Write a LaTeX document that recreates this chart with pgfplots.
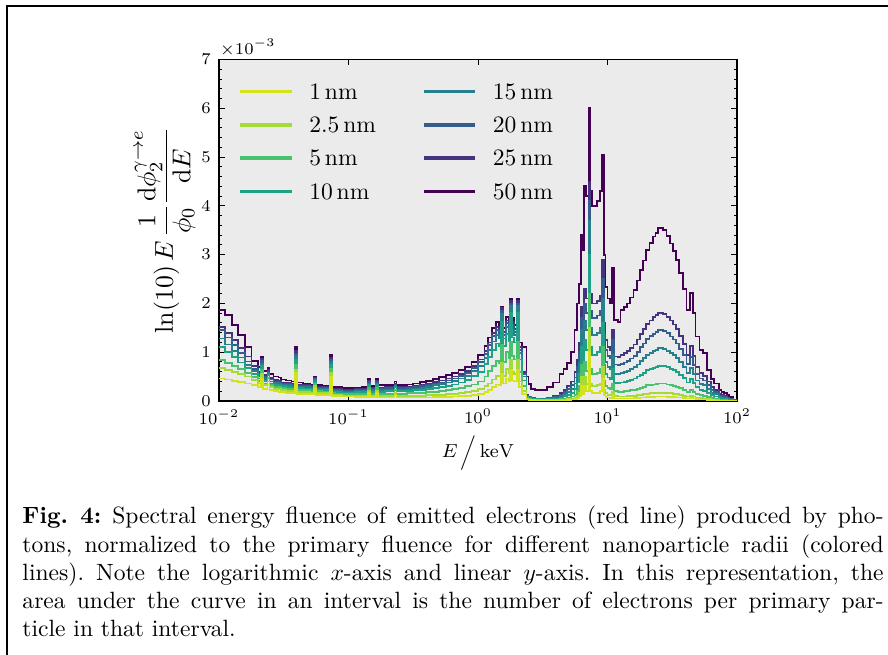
\documentclass[border=0pt]{standalone}
\usepackage{graphicx}
\usepackage{pgfplots}
\usepackage{pgfplotstable}
\pgfplotsset{compat=1.18}

\definecolor{axisbg}{RGB}{235,235,235}
\definecolor{cA}{HTML}{D2E21B}% 1 nm
\definecolor{cB}{HTML}{A5DB36}% 2.5 nm
\definecolor{cC}{HTML}{4AC16D}% 5 nm
\definecolor{cD}{HTML}{1FA187}% 10 nm
\definecolor{cE}{HTML}{277F8E}% 15 nm
\definecolor{cF}{HTML}{365C8D}% 20 nm
\definecolor{cG}{HTML}{46337E}% 25 nm
\definecolor{cH}{HTML}{440154}% 50 nm

% spectral energy fluence (units of 1e-3) per radius: 1, 2.5, 5, 10, 15, 20, 25, 50 nm
\pgfplotstableread{
E      y1   y2   y5   y10  y15  y20  y25  y50
0.0100 0.46 0.67 0.84 1.11 1.28 1.45 1.52 1.86
0.0112 0.44 0.63 0.78 1.00 1.16 1.30 1.40 1.76
0.0126 0.41 0.59 0.72 0.90 1.03 1.15 1.25 1.55
0.0141 0.39 0.55 0.65 0.79 0.89 0.98 1.08 1.35
0.0158 0.36 0.50 0.57 0.67 0.74 0.81 0.91 1.10
0.0178 0.32 0.43 0.49 0.56 0.61 0.66 0.72 0.82
0.0200 0.28 0.36 0.41 0.46 0.51 0.55 0.60 0.70
0.0211 0.46 0.55 0.64 0.72 0.77 0.82 0.86 0.91
0.0219 0.25 0.32 0.36 0.41 0.45 0.49 0.53 0.62
0.0237 0.34 0.40 0.47 0.54 0.57 0.60 0.64 0.67
0.0245 0.22 0.28 0.32 0.36 0.40 0.44 0.47 0.55
0.0263 0.20 0.25 0.29 0.33 0.37 0.40 0.43 0.50
0.0288 0.19 0.24 0.28 0.32 0.35 0.39 0.42 0.48
0.0302 0.18 0.22 0.26 0.30 0.33 0.36 0.38 0.44
0.0331 0.17 0.21 0.25 0.29 0.32 0.35 0.37 0.42
0.0363 0.16 0.20 0.24 0.27 0.30 0.33 0.35 0.40
0.0385 0.57 0.64 0.74 0.85 0.92 0.97 1.02 1.10
0.0398 0.15 0.19 0.23 0.26 0.29 0.31 0.33 0.38
0.0447 0.15 0.18 0.22 0.25 0.28 0.30 0.32 0.36
0.0501 0.14 0.17 0.21 0.24 0.27 0.29 0.31 0.34
0.0543 0.25 0.30 0.35 0.40 0.43 0.45 0.47 0.50
0.0562 0.13 0.16 0.20 0.23 0.25 0.27 0.29 0.33
0.0631 0.13 0.16 0.19 0.22 0.24 0.26 0.28 0.31
0.0708 0.12 0.15 0.18 0.21 0.23 0.25 0.27 0.30
0.0724 0.50 0.58 0.66 0.74 0.80 0.84 0.88 0.94
0.0750 0.11 0.13 0.16 0.19 0.21 0.23 0.25 0.28
0.0794 0.10 0.12 0.15 0.18 0.20 0.22 0.24 0.28
0.0891 0.09 0.11 0.14 0.17 0.19 0.21 0.23 0.26
0.1000 0.09 0.11 0.14 0.17 0.19 0.21 0.23 0.26
0.1122 0.08 0.11 0.14 0.18 0.20 0.22 0.24 0.27
0.1259 0.08 0.11 0.14 0.18 0.21 0.23 0.25 0.29
0.1413 0.17 0.21 0.26 0.32 0.36 0.39 0.42 0.46
0.1462 0.08 0.11 0.15 0.19 0.22 0.24 0.26 0.31
0.1622 0.17 0.21 0.26 0.32 0.36 0.39 0.42 0.46
0.1679 0.07 0.11 0.15 0.19 0.22 0.25 0.27 0.32
0.1905 0.07 0.11 0.15 0.20 0.23 0.26 0.28 0.33
0.2265 0.13 0.17 0.22 0.28 0.31 0.34 0.36 0.40
0.2344 0.07 0.11 0.15 0.20 0.23 0.26 0.28 0.33
0.2818 0.07 0.11 0.16 0.21 0.24 0.27 0.29 0.34
0.3162 0.07 0.11 0.16 0.22 0.25 0.28 0.31 0.36
0.3548 0.07 0.11 0.17 0.23 0.27 0.30 0.33 0.39
0.3981 0.07 0.12 0.18 0.25 0.29 0.32 0.35 0.41
0.4467 0.08 0.12 0.19 0.27 0.32 0.35 0.39 0.45
0.5012 0.08 0.13 0.20 0.29 0.35 0.38 0.42 0.49
0.5623 0.08 0.14 0.22 0.31 0.38 0.42 0.46 0.53
0.6310 0.09 0.15 0.24 0.34 0.41 0.46 0.50 0.58
0.7079 0.10 0.16 0.26 0.38 0.46 0.52 0.56 0.64
0.7943 0.11 0.18 0.30 0.43 0.52 0.58 0.62 0.70
0.8913 0.12 0.21 0.34 0.51 0.61 0.68 0.72 0.80
1.0000 0.14 0.24 0.40 0.60 0.72 0.80 0.85 0.95
1.122  0.18 0.30 0.50 0.76 0.88 0.97 1.02 1.12
1.202  0.22 0.36 0.62 0.90 1.05 1.14 1.20 1.30
1.288  0.28 0.44 0.72 1.05 1.22 1.33 1.40 1.50
1.380  0.34 0.52 0.82 1.18 1.35 1.45 1.52 1.62
1.445  0.33 0.50 0.78 1.12 1.28 1.38 1.45 1.55
1.514  0.55 0.78 1.15 1.62 1.78 1.85 1.90 1.93
1.567  0.36 0.52 0.80 1.12 1.28 1.36 1.42 1.50
1.641  0.46 0.66 1.00 1.38 1.52 1.60 1.65 1.72
1.718  0.40 0.58 0.88 1.22 1.38 1.46 1.52 1.60
1.758  0.64 0.84 1.22 1.80 1.95 2.00 2.05 2.10
1.820  0.42 0.60 0.92 1.30 1.45 1.55 1.62 1.70
1.884  0.40 0.56 0.85 1.20 1.35 1.42 1.48 1.55
1.995  0.64 0.84 1.22 1.80 1.95 2.00 2.05 2.10
2.065  0.28 0.40 0.60 0.85 0.98 1.05 1.10 1.20
2.188  0.14 0.20 0.30 0.42 0.50 0.55 0.60 1.10
2.371  0.03 0.04 0.06 0.09 0.10 0.11 0.12 0.50
2.455  0.02 0.03 0.04 0.06 0.07 0.08 0.09 0.35
2.570  0.02 0.02 0.03 0.05 0.05 0.06 0.07 0.25
2.754  0.01 0.02 0.03 0.04 0.04 0.05 0.05 0.22
3.020  0.01 0.02 0.02 0.03 0.04 0.04 0.05 0.23
3.388  0.01 0.02 0.03 0.04 0.05 0.06 0.07 0.29
3.802  0.01 0.02 0.03 0.05 0.07 0.08 0.10 0.38
4.266  0.01 0.02 0.04 0.07 0.10 0.13 0.16 0.55
4.571  0.01 0.03 0.05 0.10 0.14 0.18 0.22 0.65
4.898  0.02 0.04 0.07 0.12 0.18 0.24 0.30 0.78
5.248  0.03 0.05 0.09 0.16 0.24 0.32 0.40 1.00
5.559  0.04 0.07 0.13 0.24 0.36 0.48 0.60 1.45
5.821  0.05 0.10 0.20 0.38 0.55 0.70 0.85 2.00
6.026  0.09 0.16 0.30 0.55 0.78 1.00 1.20 2.40
6.237  0.30 0.50 0.75 1.10 1.45 1.70 1.93 3.40
6.457  0.14 0.25 0.45 0.75 1.05 1.30 1.55 3.10
6.607  0.30 0.50 0.80 1.25 1.65 2.00 2.30 4.40
6.839  0.20 0.35 0.62 1.05 1.45 1.80 2.10 4.20
7.161  1.00 1.50 2.20 3.00 3.70 4.10 4.50 6.00
7.328  0.20 0.36 0.65 1.10 1.50 1.85 2.20 4.30
7.586  0.16 0.30 0.55 0.95 1.35 1.70 2.00 4.00
7.943  0.16 0.30 0.55 0.95 1.35 1.70 2.00 4.00
8.318  0.17 0.32 0.58 1.00 1.40 1.75 2.05 4.10
8.710  0.20 0.36 0.65 1.10 1.50 1.85 2.15 4.30
9.016  0.45 0.70 1.10 1.60 2.10 2.50 2.90 5.05
9.333  0.12 0.22 0.42 0.75 1.05 1.35 1.60 3.00
9.661  0.08 0.16 0.30 0.55 0.80 1.05 1.25 2.34
10.00  0.07 0.13 0.26 0.48 0.70 0.92 1.10 2.10
10.47  0.06 0.12 0.24 0.45 0.66 0.88 1.05 2.00
10.84  0.10 0.18 0.35 0.65 0.95 1.25 1.45 2.72
11.22  0.05 0.10 0.20 0.37 0.55 0.75 0.91 1.66
12.02  0.05 0.09 0.19 0.37 0.55 0.74 0.90 1.62
12.59  0.05 0.09 0.19 0.38 0.57 0.76 0.95 1.86
13.34  0.05 0.09 0.20 0.39 0.59 0.79 0.98 1.93
14.13  0.05 0.10 0.20 0.41 0.61 0.82 1.02 2.00
14.96  0.05 0.10 0.22 0.43 0.65 0.87 1.08 2.12
15.85  0.06 0.11 0.23 0.46 0.69 0.93 1.16 2.27
16.79  0.06 0.12 0.25 0.50 0.75 1.01 1.26 2.47
17.78  0.07 0.13 0.27 0.54 0.82 1.10 1.37 2.68
18.84  0.07 0.14 0.29 0.58 0.88 1.18 1.47 2.88
19.95  0.08 0.15 0.32 0.63 0.94 1.27 1.58 3.09
21.13  0.08 0.16 0.33 0.66 0.99 1.33 1.65 3.24
22.39  0.08 0.16 0.34 0.68 1.03 1.38 1.72 3.37
23.44  0.09 0.17 0.35 0.70 1.05 1.41 1.76 3.45
24.55  0.09 0.17 0.36 0.72 1.08 1.45 1.80 3.54
25.70  0.09 0.17 0.36 0.72 1.08 1.46 1.81 3.55
26.92  0.09 0.17 0.36 0.71 1.07 1.44 1.78 3.50
28.51  0.08 0.16 0.34 0.69 1.03 1.39 1.72 3.38
30.20  0.08 0.16 0.33 0.66 0.99 1.32 1.65 3.23
31.99  0.08 0.15 0.31 0.63 0.94 1.26 1.57 3.08
33.88  0.07 0.14 0.29 0.59 0.88 1.18 1.47 2.89
35.89  0.07 0.13 0.27 0.53 0.80 1.07 1.34 2.62
38.02  0.06 0.11 0.23 0.47 0.70 0.94 1.17 2.30
40.74  0.05 0.09 0.19 0.38 0.57 0.76 0.95 1.86
43.15  0.06 0.11 0.23 0.45 0.67 0.90 1.12 2.21
45.71  0.05 0.09 0.18 0.37 0.55 0.74 0.92 1.80
47.86  0.04 0.07 0.14 0.28 0.42 0.56 0.70 1.32
51.29  0.03 0.06 0.12 0.23 0.35 0.46 0.58 1.05
54.95  0.03 0.05 0.11 0.21 0.32 0.42 0.52 0.98
58.88  0.02 0.04 0.08 0.16 0.24 0.32 0.40 0.64
63.10  0.02 0.03 0.06 0.12 0.17 0.23 0.28 0.45
66.07  0.01 0.02 0.05 0.09 0.14 0.18 0.22 0.36
72.44  0.01 0.01 0.03 0.06 0.09 0.11 0.14 0.22
75.86  0.00 0.01 0.02 0.05 0.07 0.10 0.12 0.19
79.43  0.00 0.01 0.02 0.04 0.06 0.08 0.10 0.16
83.18  0.00 0.00 0.01 0.03 0.04 0.06 0.07 0.12
87.10  0.00 0.00 0.01 0.02 0.03 0.04 0.05 0.08
93.33  0.00 0.00 0.00 0.01 0.01 0.02 0.02 0.03
100.0  0.00 0.00 0.00 0.00 0.00 0.00 0.00 0.00
}\spectra

\begin{document}
\begin{tikzpicture}
\useasboundingbox (0,0) rectangle (377.22pt,278.24pt);
% frame
\draw[line width=0.85pt] (2.97pt,0pt) -- (2.97pt,275.7pt) -- (377.22pt,275.7pt);

\begin{axis}[
  name=main,
  at={(93.03pt,107.9pt)}, anchor=south west,
  scale only axis, width=220.05pt, height=145.07pt,
  xmode=log, log basis x=10,
  xmin=0.01, xmax=100, ymin=0, ymax=7,
  xtick={0.01,0.1,1,10,100},
  ytick={0,1,2,3,4,5,6,7},
  minor y tick num=4,
  axis background/.style={fill=axisbg},
  tick align=inside,
  major tick length=2.4pt, minor tick length=1.3pt,
  every tick/.style={black, line width=0.4pt},
  axis line style={line width=0.6pt},
  tick label style={font=\fontsize{7.5}{9}\selectfont},
  every axis x label/.style={at={(axis description cs:0.5,-0.165)}, anchor=base, inner sep=0pt},
  every axis y label/.style={at={(axis description cs:-0.104,0.5)}, anchor=center, rotate=90},
  xlabel style={font=\fontsize{8.5}{10}\selectfont},
  ylabel style={font=\fontsize{11}{13}\selectfont},
  xlabel={$E \,\scalebox{0.82}{$\Big/$}\, \mathrm{keV}$},
  ylabel={$\displaystyle \ln(10)\,E\,\frac{1}{\phi_0}\frac{\mathrm{d}\phi_2^{\gamma\to e}}{\mathrm{d}E}$},
  every axis plot/.append style={line width=0.75pt},
  const plot,
  legend columns=2,
  legend cell align=left,
  legend image code/.code={%
    \fill[#1] (0pt,-0.35pt) rectangle (21pt,0.35pt);},
  legend style={
    at={(axis description cs:0.0405,0.930)}, anchor=north west,
    draw=none, fill=none, inner sep=0pt,
    font=\fontsize{10}{12}\selectfont,
    nodes={inner sep=0pt, text height=6.5pt, text depth=0pt},
    column sep=7.5pt, row sep=7.65pt,
    /tikz/every even column/.append style={column sep=20.4pt},
  },
]
\addplot[color=cH, forget plot] table[x=E, y=y50] {\spectra};
\addplot[color=cG, forget plot] table[x=E, y=y25] {\spectra};
\addplot[color=cF, forget plot] table[x=E, y=y20] {\spectra};
\addplot[color=cE, forget plot] table[x=E, y=y15] {\spectra};
\addplot[color=cD, forget plot] table[x=E, y=y10] {\spectra};
\addplot[color=cC, forget plot] table[x=E, y=y5]  {\spectra};
\addplot[color=cB, forget plot] table[x=E, y=y2]  {\spectra};
\addplot[color=cA, forget plot] table[x=E, y=y1]  {\spectra};

% legend, filled row by row into two columns
\addlegendimage{color=cA} \addlegendentry{1\,nm}
\addlegendimage{color=cE} \addlegendentry{15\,nm}
\addlegendimage{color=cB} \addlegendentry{2.5\,nm}
\addlegendimage{color=cF} \addlegendentry{20\,nm}
\addlegendimage{color=cC} \addlegendentry{5\,nm}
\addlegendimage{color=cG} \addlegendentry{25\,nm}
\addlegendimage{color=cD} \addlegendentry{10\,nm}
\addlegendimage{color=cH} \addlegendentry{50\,nm}
\end{axis}

% common factor of the y axis
\node[anchor=base west, inner sep=0pt, font=\fontsize{7.5}{9}\selectfont]
  at ([xshift=0.3pt, yshift=2.3pt]main.north west) {$\times10^{-3}$};

\node[anchor=base west, inner sep=0pt] at (9.35pt,55.65pt) {\parbox[t]{365.8pt}{\frenchspacing
\textbf{Fig.\ 4:} Spectral energy fluence of emitted electrons (red line) produced by pho-\linebreak
tons, normalized to the primary fluence for different nanoparticle radii (colored\linebreak
lines). Note the logarithmic $x$-axis and linear $y$-axis. In this representation, the\linebreak
area under the curve in an interval is the number of electrons per primary par-\linebreak
ticle in that interval.}};
\end{tikzpicture}
\end{document}
